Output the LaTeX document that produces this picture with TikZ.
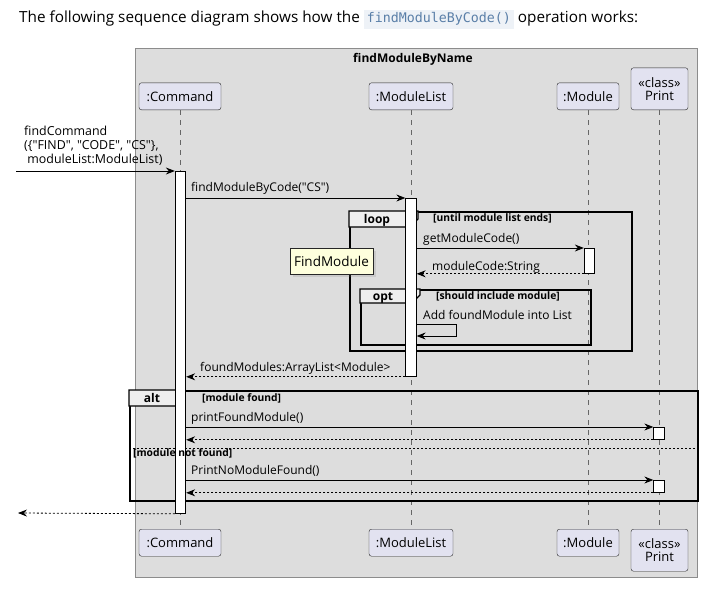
\documentclass[tikz,border=0pt]{standalone}
\usepackage{fontspec}
\setmainfont{Open Sans}[Ligatures=TeXOff]
\setmonofont{DejaVu Sans Mono}
\usetikzlibrary{arrows.meta,positioning,calc,shadows}
\definecolor{umlpart}{HTML}{E2E2F0}
\definecolor{umlgroup}{HTML}{DDDDDD}
\definecolor{umlnote}{HTML}{FEFFDD}
\definecolor{umltab}{HTML}{EEEEEE}
\definecolor{codebg}{HTML}{EEF2F7}
\definecolor{codeblue}{HTML}{5A7FA8}

\begin{document}
\begin{tikzpicture}[x=1pt,y=-1pt,
  every node/.style={font=\fontsize{12}{14}\selectfont,inner sep=0pt},
  part/.style={draw=black!85,fill=umlpart,rounded corners=2.5pt,align=center,
    minimum height=27pt,font=\fontsize{13}{15}\selectfont},
  act/.style={draw=black,fill=white,minimum width=10.5pt,line width=0.8pt},
  life/.style={black!60,dash pattern=on 5pt off 5pt,line width=0.5pt},
  msg/.style={-{Stealth[length=9pt,width=7pt,inset=3pt]},line width=0.8pt},
  ret/.style={msg,dash pattern=on 2pt off 2pt},
  frm/.style={draw=black,line width=1.5pt,anchor=north west},
  tab/.style={draw=black,line width=1.2pt,fill=umltab},
  lbl/.style={anchor=base west},
  cond/.style={anchor=base west,font=\fontsize{10.3}{12}\selectfont\bfseries}]
  \useasboundingbox (0,0) rectangle (717,589);
  % Intro line above the diagram
  \node[lbl,font=\fontsize{15.3}{17}\selectfont] (intro) at (19,23)
    {The following sequence diagram shows how the {\setlength\fboxsep{3pt}\colorbox{codebg}{\fontsize{13.3}{15}\ttfamily\color{codeblue}findModuleByCode()}} operation works:};
  % Group box
  \node[draw=black!45,fill=umlgroup,minimum width=562pt,minimum height=529pt,anchor=north west] (grp) at (135,48) {};
  \node[font=\fontsize{12}{14}\selectfont\bfseries,anchor=base] (grpTitle) at (413,62) {findModuleByName};
  % Participants, top and bottom
  \node[part,minimum width=82pt,anchor=south] (cmdT) at (180,110) {:Command};
  \node[part,minimum width=84pt,anchor=south] (mlT) at (411,110) {:ModuleList};
  \node[part,minimum width=62pt,anchor=south] (modT) at (588,110) {:Module};
  \node[part,minimum width=57pt,minimum height=42pt,anchor=south] (prT) at (659.5,110) {«class»\\[-2pt]Print};
  \node[part,minimum width=82pt,anchor=north] (cmdB) at (180,529) {:Command};
  \node[part,minimum width=84pt,anchor=north] (mlB) at (411,529) {:ModuleList};
  \node[part,minimum width=62pt,anchor=north] (modB) at (588,529) {:Module};
  \node[part,minimum width=57pt,minimum height=42pt,anchor=north] (prB) at (659.5,529) {«class»\\[-2pt]Print};
  % Lifelines
  \draw[life] (cmdT) -- (cmdB);
  \draw[life] (mlT) -- (mlB);
  \draw[life] (modT) -- (modB);
  \draw[life] (prT) -- (prB);
  % Combined fragments
  \node[frm,minimum width=282pt,minimum height=139pt] (loopF) at (349,211) {};
  \draw[tab] (loopF.north west) -- ++(69,0) -- ++(0,8) -- ++(-8,8) -| cycle;
  \node[font=\fontsize{12}{14}\selectfont\bfseries,anchor=base] (loopLbl) at (377,223.5) {loop};
  \node[cond] (loopCond) at (433,221.5) {[until module list ends]};
  \node[frm,minimum width=230pt,minimum height=55pt] (optF) at (360,289) {};
  \draw[tab] (optF.north west) -- ++(60,0) -- ++(0,6) -- ++(-8,8) -| cycle;
  \node[font=\fontsize{12}{14}\selectfont\bfseries,anchor=base] (optLbl) at (383,300.5) {opt};
  \node[cond] (optCond) at (436,299.5) {[should include module]};
  \node[frm,minimum width=568pt,minimum height=110pt] (altF) at (129,390) {};
  \draw[tab] (altF.north west) -- ++(56,0) -- ++(0,7) -- ++(-8,9) -| cycle;
  \node[font=\fontsize{12}{14}\selectfont\bfseries,anchor=base] (altLbl) at (152,402.5) {alt};
  \node[cond] (altCond) at (202,401.5) {[module found]};
  \coordinate (altMidL) at (129,448);
  \coordinate (altMidR) at (697,448);
  \draw[line width=0.7pt,dash pattern=on 2pt off 2pt] (altMidL) -- (altMidR);
  % Activation bars
  \node[act,minimum height=342pt,anchor=north] (cmdA) at (180.5,171) {};
  \node[act,minimum height=178pt,anchor=north] (mlA) at (411,198) {};
  \node[act,minimum height=25pt,anchor=north] (modA) at (589.5,248) {};
  \node[act,minimum height=12pt,anchor=north] (prA1) at (659,427) {};
  \node[act,minimum height=12pt,anchor=north] (prA2) at (659,480) {};
  \node[cond] (altCond2) at (133,456.5) {[module not found]};
  % Note
  \node[draw=black!85,fill=umlnote,minimum width=83pt,minimum height=26pt,
    font=\fontsize{13.5}{15}\selectfont,drop shadow={opacity=0.2}] (findNote) at (331.5,261) {FindModule};
  % Messages
  \coordinate (src) at (16,171);
  \draw[msg] (src) -- (cmdA.north west);
  \node[anchor=south west,align=left,font=\fontsize{12.4}{14}\selectfont] (inLbl) at (24,166)
    {findCommand\\(\{"FIND", "CODE", "CS"\},\\\ moduleList:ModuleList)};
  \draw[msg] (cmdA.east |- mlA.north) -- (mlA.north west);
  \node[lbl] (m1) at (191,191) {findModuleByCode("CS")};
  \draw[msg] (mlA.east |- modA.north) -- (modA.north west);
  \node[lbl] (m2) at (423,242) {getModuleCode()};
  \draw[ret] (modA.south west) -- (mlA.east |- modA.south);
  \node[lbl] (m3) at (432,270) {moduleCode:String};
  \node[lbl] (m4) at (423,319) {Add foundModule into List};
  \coordinate (selfTop) at (456,324);
  \coordinate (selfBot) at (456,336);
  \draw[msg] (mlA.east |- selfTop) -- (selfTop) -- (selfBot) -- (mlA.east |- selfBot);
  \draw[ret] (mlA.south west) -- (cmdA.east |- mlA.south);
  \node[lbl] (m5) at (200,371) {foundModules:ArrayList<Module>};
  \draw[msg] (cmdA.east |- prA1.north) -- (prA1.north west);
  \node[lbl] (m6) at (191,421) {printFoundModule()};
  \draw[ret] (prA1.south west) -- (cmdA.east |- prA1.south);
  \draw[msg] (cmdA.east |- prA2.north) -- (prA2.north west);
  \node[lbl] (m7) at (191,474) {PrintNoModuleFound()};
  \draw[ret] (prA2.south west) -- (cmdA.east |- prA2.south);
  \coordinate (sink) at (18,513);
  \draw[ret] (cmdA.south west) -- (sink);
\end{tikzpicture}
\end{document}
